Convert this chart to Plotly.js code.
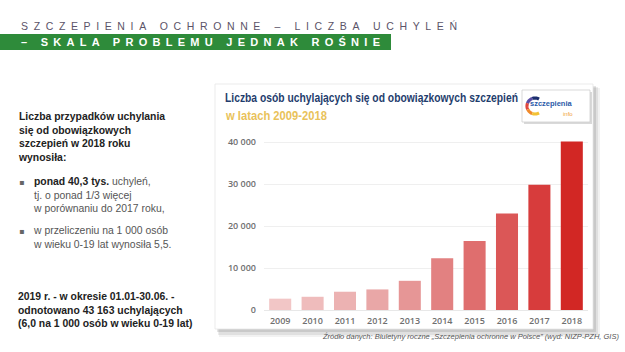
<!DOCTYPE html>
<html>
<head>
<meta charset="utf-8">
<script src="https://cdn.plot.ly/plotly-3.0.1.min.js"></script>
<style>
html,body{margin:0;padding:0;background:#fff;}
#chart{width:625px;height:352px;}
</style>
</head>
<body>
<div id="chart"></div>
<script>
// ---- data ----
const years = ["2009","2010","2011","2012","2013","2014","2015","2016","2017","2018"];
const refusals = [2700, 3150, 4350, 4900, 6950, 12350, 16400, 22950, 29850, 40100];
const yTicks = [0, 10000, 20000, 30000, 40000];

const slideTitle = "SZCZEPIENIA OCHRONNE – LICZBA UCHYLEŃ";
const slideSubtitle = "– SKALA PROBLEMU JEDNAK ROŚNIE";
const chartTitle = "Liczba osób uchylających się od obowiązkowych szczepień";
const chartSubtitle = "w latach 2009-2018";
const introText = "Liczba przypadków uchylania<br>się od obowiązkowych<br>szczepień w 2018 roku<br>wynosiła:";
const bullet1 = "<b style='color:#222'>ponad 40,3 tys.</b> uchyleń,<br>tj. o ponad 1/3 więcej<br>w porównaniu do 2017 roku,";
const bullet2 = "w przeliczeniu na 1 000 osób<br>w wieku 0-19 lat wynosiła 5,5.";
const note2019 = "2019 r. - w okresie 01.01-30.06. -<br>odnotowano 43 163 uchylających<br>(6,0 na 1 000 osób w wieku 0-19 lat)";
const sourceText = "Źródło danych: Biuletyny roczne „Szczepienia ochronne w Polsce” (wyd: NIZP-PZH, GIS)";

// ---- layout geometry (pixels) ----
const W = 625, H = 352, ML = 264, MR = 37, MT = 140, MB = 42;
const PW = W - ML - MR, PH = H - MT - MB;
const fx = x => (x - ML) / PW;
const fy = y => (H - MB - y) / PH;

function rect(x0, y0, x1, y1, fill, line, layer) {
  return {type:'rect', xref:'paper', yref:'paper', layer: layer || 'below',
    x0:fx(x0), x1:fx(x1), y0:fy(y1), y1:fy(y0),
    fillcolor:fill, line: line || {width:0}};
}
function arcPath(cx, cy, r, a0, a1) {
  let d = '';
  const n = 10;
  for (let i = 0; i <= n; i++) {
    const a = (a0 + (a1 - a0) * i / n) * Math.PI / 180;
    const x = fx(cx + r * Math.cos(a));
    const y = fy(cy - r * Math.sin(a));
    d += (i === 0 ? 'M' : 'L') + x + ',' + y;
  }
  return d;
}
function arc(cx, cy, r, a0, a1, color) {
  return {type:'path', xref:'paper', yref:'paper', layer:'above',
    path: arcPath(cx, cy, r, a0, a1), line:{color:color, width:3.2}};
}

const shapes = [
  rect(0, 34, 391, 50, '#2e8b3a'),
  rect(219, 88, 600, 337, 'rgba(0,0,0,0.05)'),
  rect(218, 87, 598, 335, 'rgba(0,0,0,0.07)'),
  rect(217, 86, 596, 332, 'rgba(0,0,0,0.10)'),
  rect(215, 84, 593, 329, '#ffffff', {color:'#e6e6e6', width:0.8}),
  rect(524, 92, 592, 124, 'rgba(0,0,0,0.15)', null, 'above'),
  rect(522, 90, 590, 122, '#ffffff', {color:'#cfcfcf', width:0.8}, 'above'),
  arc(535, 106, 8, 60, 110, '#1b2f6e'),
  arc(535, 106, 8, 110, 160, '#5a4ea6'),
  arc(535, 106, 8, 160, 205, '#e0463c'),
  arc(535, 106, 8, 205, 250, '#f08a2c'),
  arc(535, 106, 8, 250, 300, '#f3c234')
];

const baseFont = "Liberation Sans, Arial, sans-serif";
function ann(o) { return Object.assign({xref:'paper', yref:'paper', showarrow:false, align:'left'}, o); }
const annotations = [
  ann({text: slideTitle, x: fx(19), y: fy(26), xanchor:'left', yanchor:'middle',
   font:{family:baseFont, size:10.5, color:'#5b5368'}}),
  ann({text: slideSubtitle, x: fx(19), y: fy(42), xanchor:'left', yanchor:'middle',
   font:{family:baseFont, size:11, color:'#ffffff', weight:700}}),
  ann({text: chartTitle, x: fx(223), y: fy(97), xanchor:'left', yanchor:'middle',
   font:{family:baseFont, size:10.3, color:'#1f3d6d', weight:700}}),
  ann({text: chartSubtitle, x: fx(223), y: fy(115), xanchor:'left', yanchor:'middle',
   font:{family:baseFont, size:10.3, color:'#e9c25a', weight:700}}),
  ann({text: "szczepienia", x: fx(529), y: fy(103), xanchor:'left', yanchor:'middle', borderpad:0,
   font:{family:baseFont, size:7.5, color:'#2a5aa8', weight:700}}),
  ann({text: "info", x: fx(574), y: fy(113.5), xanchor:'right', yanchor:'middle', borderpad:0,
   font:{family:baseFont, size:6, color:'#f0a23a'}}),
  ann({text: introText, x: fx(16), y: fy(109), xanchor:'left', yanchor:'top',
   font:{family:baseFont, size:10.4, color:'#222222', weight:700}}),
  ann({text: "▪", x: fx(17), y: fy(182), xanchor:'left', yanchor:'middle',
   font:{family:"DejaVu Sans, sans-serif", size:8, color:'#666666'}}),
  ann({text: bullet1, x: fx(31), y: fy(174), xanchor:'left', yanchor:'top',
   font:{family:baseFont, size:10.4, color:'#555555'}}),
  ann({text: "▪", x: fx(17), y: fy(231), xanchor:'left', yanchor:'middle',
   font:{family:"DejaVu Sans, sans-serif", size:8, color:'#666666'}}),
  ann({text: bullet2, x: fx(31), y: fy(223), xanchor:'left', yanchor:'top',
   font:{family:baseFont, size:10.4, color:'#555555'}}),
  ann({text: note2019, x: fx(16), y: fy(289), xanchor:'left', yanchor:'top',
   font:{family:baseFont, size:10.4, color:'#222222', weight:700}}),
  ann({text: sourceText, x: fx(621), y: fy(336), xanchor:'right', yanchor:'middle',
   font:{family:baseFont, size:7.5, color:'#555555', style:'italic'}})
];

const trace = {
  type:'bar', x: years, y: refusals,
  marker:{color:['#f2c6c6','#efbcbc','#ecb2b2','#e9a7a7','#e69696','#e28181','#df6e6e','#db5757','#d73c3c','#d22724'], line:{width:0}},
  hoverinfo:'none'
};

const layout = {
  width: W, height: H,
  margin:{l:ML, r:MR, t:MT, b:MB, pad:0},
  paper_bgcolor:'#ffffff', plot_bgcolor:'rgba(0,0,0,0)',
  separators:', ',
  bargap:0.32,
  showlegend:false,
  xaxis:{type:'category', showgrid:false, zeroline:false, showline:false, ticks:'',
    tickfont:{family:"Open Sans, sans-serif", size:9, color:'#6f6f6f', weight:600}, ticklabelstandoff:4},
  yaxis:{range:[0, 40476], tickvals:yTicks, tickformat:',d', showgrid:true, gridcolor:'#efefef', gridwidth:1,
    zeroline:true, zerolinecolor:'#e8e8e8', showline:false, ticks:'',
    tickfont:{family:"Open Sans, sans-serif", size:9, color:'#6f6f6f', weight:600}, ticklabelstandoff:7},
  shapes: shapes,
  annotations: annotations
};

// target text widths (px) for tracked / condensed headings; vertical stretch for condensed look
const fitWidths = {0:[436,'spacing',1], 1:[359,'spacing',1], 2:[293,'spacingAndGlyphs',1.2], 3:[101,'spacingAndGlyphs',1.2]};

Plotly.newPlot('chart', [trace], layout, {staticPlot:true, displayModeBar:false}).then(function(gd){
  Object.keys(fitWidths).forEach(function(i){
    const t = gd.querySelector('.annotation[data-index="' + i + '"] text.annotation-text');
    if (t) {
      t.setAttribute('textLength', fitWidths[i][0]);
      t.setAttribute('lengthAdjust', fitWidths[i][1]);
      if (fitWidths[i][2] !== 1) {
        t.style.transformBox = 'fill-box';
        t.style.transformOrigin = '0% 50%';
        t.style.transform = 'scaleY(' + fitWidths[i][2] + ')';
      }
    }
  });
});
</script>
</body>
</html>
